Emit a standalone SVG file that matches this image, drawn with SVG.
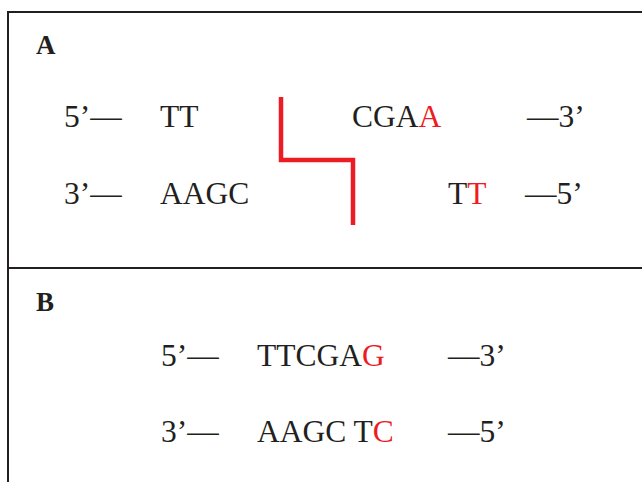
<svg xmlns="http://www.w3.org/2000/svg" width="642" height="482" viewBox="0 0 642 482">
<style>
.t{font-family:"Liberation Serif","Times New Roman",serif;font-size:31.5px;fill:#231f20}
.lbl{font-family:"Liberation Serif","Times New Roman",serif;font-size:27px;font-weight:bold;fill:#231f20}
.r{fill:#ed1c24}
.frame{stroke:#231f20;stroke-width:2;fill:none}
</style>
<rect width="642" height="482" fill="#fff"/>
<g id="frame">
<path class="frame" d="M8 482 V12 H642 M8 268 H642"/>
</g>
<g id="panelA">
<text class="lbl" x="36" y="54">A</text>
<text class="t" x="64" y="127">5’—</text>
<text class="t" x="160" y="127">TT</text>
<text class="t" x="352" y="127">CGA<tspan class="r">A</tspan></text>
<text class="t" x="527" y="127">—3’</text>
<text class="t" x="64" y="204">3’—</text>
<text class="t" x="160" y="204">AAGC</text>
<text class="t" x="448" y="204">T<tspan class="r">T</tspan></text>
<text class="t" x="525" y="204">—5’</text>
</g>
<g id="connectors">
<path d="M281 97 V160 H353 V225" fill="none" stroke="#ed1c24" stroke-width="4.5"/>
</g>
<g id="panelB">
<text class="lbl" x="36" y="311">B</text>
<text class="t" x="161" y="366">5’—</text>
<text class="t" x="257" y="366">TTCGA<tspan class="r">G</tspan></text>
<text class="t" x="448" y="366">—3’</text>
<text class="t" x="161" y="442">3’—</text>
<text class="t" x="257" y="442">AAGC T<tspan class="r">C</tspan></text>
<text class="t" x="448" y="442">—5’</text>
</g>
</svg>
